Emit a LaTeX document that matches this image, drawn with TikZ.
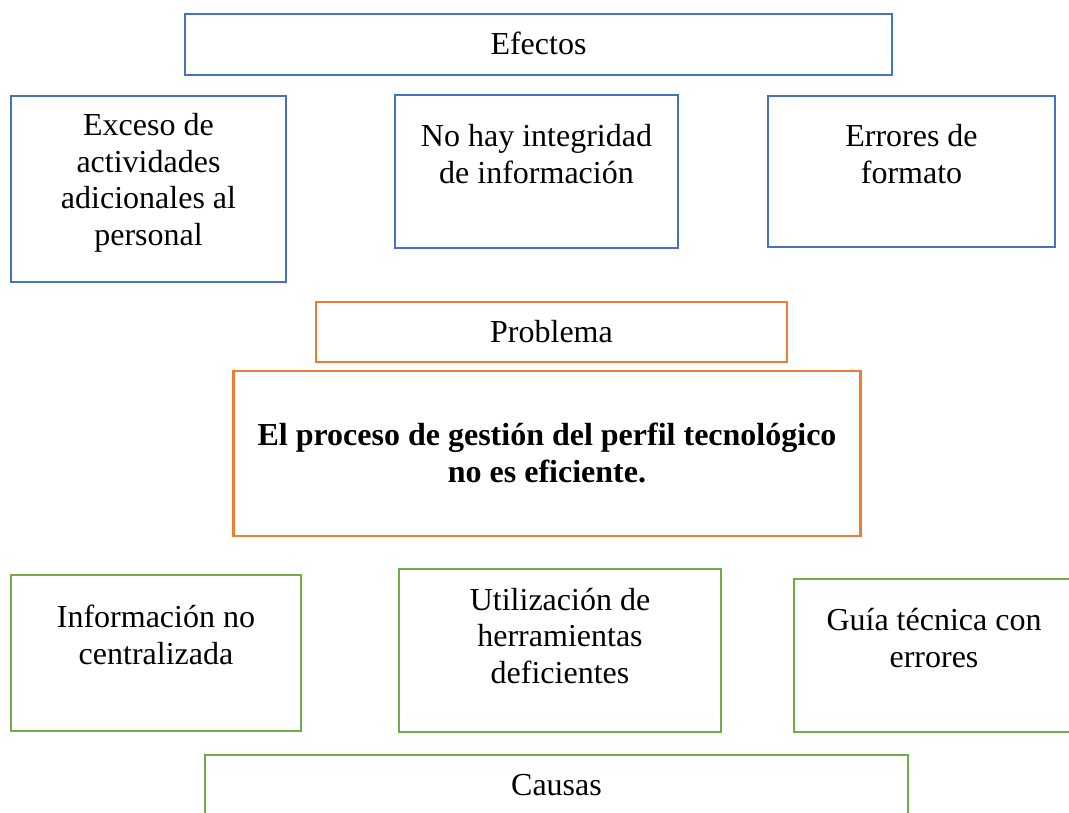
\documentclass[tikz,border=0pt]{standalone}
\usepackage{fontspec}
\setmainfont{Liberation Serif}
\definecolor{azul}{HTML}{4472C4}
\definecolor{naranja}{HTML}{ED7D31}
\definecolor{verde}{HTML}{70AD47}
\begin{document}
\begin{tikzpicture}[x=1pt,y=-1pt,line width=2.4pt,
 caja/.style={draw,inner sep=0pt,outer sep=0pt},
 efecto/.style={caja,draw=azul},
 problema/.style={caja,draw=naranja},
 causa/.style={caja,draw=verde},
 texto/.style={align=center,anchor=base,inner sep=0pt,font=\fontsize{32}{36.5}\selectfont}]
 \clip (0,0) rectangle (1069,812);
 % efectos
 \node[efecto,minimum width=707pt,minimum height=61pt] (efectos) at (538.5,44.5) {};
 \node[efecto,minimum width=275pt,minimum height=186pt] (exceso) at (148.5,189) {};
 \node[efecto,minimum width=283pt,minimum height=153pt] (integridad) at (536.5,171.5) {};
 \node[efecto,minimum width=287pt,minimum height=151pt] (formato) at (911.5,171.5) {};
 \node[texto] (efectostxt) at (538.5,54) {Efectos};
 \node[texto] (excesotxt) at (148.5,245) {Exceso de\\actividades\\adicionales al\\personal};
 \node[texto] (integridadtxt) at (536.5,183) {No hay integridad\\de información};
 \node[texto] (formatotxt) at (911.5,183) {Errores de\\formato};
 % problema
 \node[problema,minimum width=471pt,minimum height=60pt] (problema) at (551.5,332) {};
 \node[problema,minimum width=627pt,minimum height=165pt] (proceso) at (547,453.5) {};
 \node[texto] (problematxt) at (551.5,342) {Problema};
 \node[texto,font=\fontsize{32}{37}\selectfont\bfseries] (procesotxt) at (547,482) {El proceso de gestión del perfil tecnológico\\no es eficiente.};
 % causas
 \node[causa,minimum width=290pt,minimum height=156pt] (centralizada) at (156,653) {};
 \node[causa,minimum width=322pt,minimum height=163pt] (herramientas) at (560,650.5) {};
 \node[causa,minimum width=280pt,minimum height=153pt] (guia) at (934,655.5) {};
 \node[causa,minimum width=703pt,minimum height=70pt] (causas) at (556.5,790) {};
 \node[texto] (centralizadatxt) at (156,664) {Información no\\centralizada};
 \node[texto] (herramientastxt) at (560,683) {Utilización de\\herramientas\\deficientes};
 \node[texto] (guiatxt) at (934,667) {Guía técnica con\\errores};
 \node[texto] (causastxt) at (556.5,795) {Causas};
\end{tikzpicture}
\end{document}
